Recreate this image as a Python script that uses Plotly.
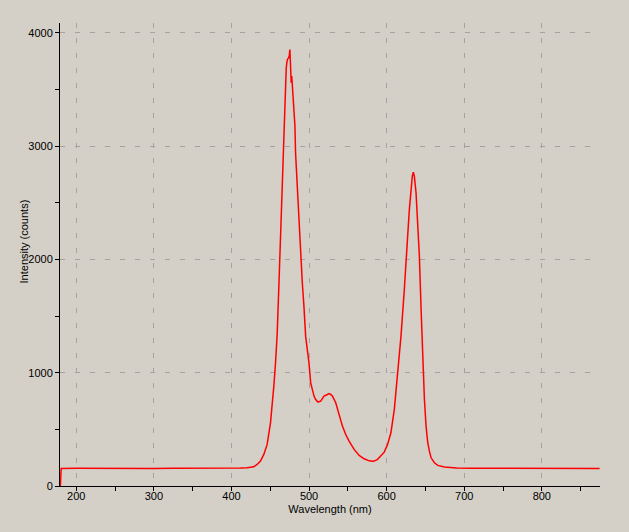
import plotly.graph_objects as go

# Wavelength (nm) and intensity (counts)
wavelength = [
    179.5, 180.5, 200, 225, 250, 275, 300, 325, 350, 375, 400, 411.5, 420, 428.7,
    433.1, 437.4, 441.7, 446.0, 450.3, 452.5, 454.6, 456.8, 458.9, 461.1, 463.2,
    465.4, 467.6, 469.7, 470.6, 471.4, 472.3, 473.6, 474.5, 475.3, 476.2, 477.0,
    477.7, 478.6, 479.4, 480.5, 481.8, 482.6, 484.8, 487.0, 489.1, 491.3, 493.4,
    495.6, 497.7, 499.9, 502.1, 504.2, 506.4, 508.5, 511.5, 515.0, 519.3, 523.6,
    525.8, 527.9, 530.1, 534.4, 538.7, 543.0, 547.3, 551.6, 558.1, 564.6, 571.0,
    577.5, 581.9, 584.0, 588.3, 592.6, 596.9, 601.2, 605.5, 609.9, 614.2, 618.5,
    622.8, 624.9, 627.1, 629.3, 631.4, 633.1, 634.4, 635.7, 637.9, 640.0, 642.2,
    644.4, 646.5, 648.7, 650.8, 653.0, 655.1, 657.3, 661.6, 665.9, 674.5, 690,
    710, 740, 770, 800, 830, 860, 874.5,
]
intensity = [
    0, 155, 156, 154, 156, 155, 154, 156, 155, 154, 155, 158, 162, 170,
    190, 220, 279, 367, 558, 705, 882, 1088, 1338, 1765, 2177,
    2589, 3148, 3600, 3690, 3740, 3770, 3780, 3800, 3854, 3740, 3560,
    3620, 3520, 3420, 3354, 3178, 2942, 2618, 2295, 2000, 1794, 1588,
    1323, 1206, 1088, 911, 853, 794, 764, 741, 750, 794, 808,
    815, 808, 794, 735, 632, 529, 455, 396, 323, 270, 240,
    222, 218, 220, 235, 264, 299, 367, 470, 676, 970, 1323,
    1735, 2030, 2206, 2442, 2648, 2736, 2771, 2736, 2589, 2324, 2030,
    1559, 1117, 764, 529, 382, 308, 249, 205, 182, 167, 158,
    156, 155, 156, 155, 156, 155, 155,
]

x_range = [179, 875]
y_range = [0, 4088]

BG = "#D4D0C8"
GRID = "#A3A3A3"
FONT = "Liberation Sans"

fig = go.Figure()
fig.add_trace(go.Scatter(
    x=wavelength, y=intensity, mode="lines",
    line=dict(color="#FF0000", width=1.5),
    showlegend=False, hoverinfo="skip",
))

axis_common = dict(
    showline=True, linecolor="black", linewidth=1, mirror=False,
    ticks="outside", ticklen=4, tickcolor="black", tickwidth=1,
    showgrid=True, gridcolor=GRID, gridwidth=1, griddash="5px,10px",
    zeroline=False, tickfont=dict(family=FONT, size=11, color="black"),
)

fig.update_xaxes(
    range=x_range, tick0=0, dtick=100, **axis_common,
    ticklabelstandoff=-4,
    minor=dict(dtick=50, tick0=0, ticks="outside", ticklen=4, tickcolor="black", showgrid=False),
    title=dict(text="Wavelength (nm)", font=dict(family=FONT, size=11, color="black"), standoff=4),
)
fig.update_yaxes(
    range=y_range, tick0=0, dtick=1000, **axis_common,
    minor=dict(dtick=500, tick0=0, ticks="outside", ticklen=4, tickcolor="black", showgrid=False),
)

fig.add_annotation(
    text="Intensity (counts)", xref="paper", yref="paper",
    x=-0.066, y=0.529, xanchor="center", yanchor="middle",
    textangle=-90, showarrow=False,
    font=dict(family=FONT, size=11, color="black"),
)

fig.update_layout(
    width=629, height=532,
    margin=dict(l=60, r=29, t=23, b=46),
    paper_bgcolor=BG, plot_bgcolor=BG,
    font=dict(family=FONT, size=11, color="black"),
)

fig.write_html(
    "out.html",
    config={"displayModeBar": False},
    post_script="document.body.style.margin='0';document.body.style.backgroundColor='#D4D0C8';",
)
